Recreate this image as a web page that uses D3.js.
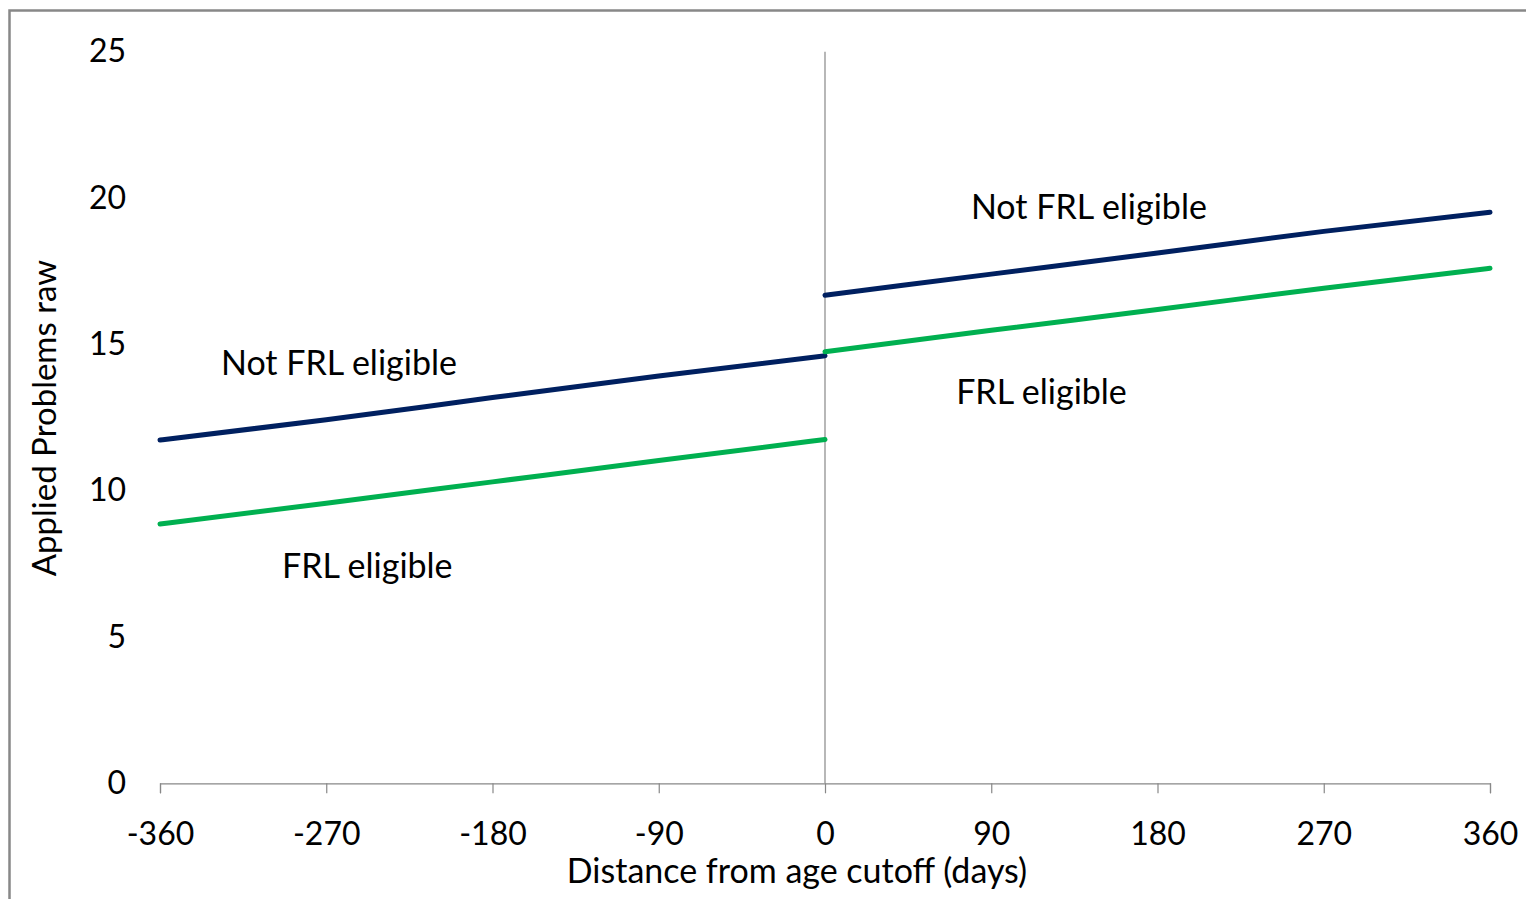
<!DOCTYPE html>
<html>
<head>
<meta charset="utf-8">
<script src="https://cdn.jsdelivr.net/npm/d3@7"></script>
<style>
  html, body { margin: 0; padding: 0; background: #fff; }
  svg { display: block; font-family: Lato, "Open Sans", sans-serif; }
</style>
</head>
<body>
<svg id="chart" width="1526" height="899"></svg>
<script>
// Regression fits of Applied Problems raw score on distance from the age cutoff
const xTicks = [-360, -270, -180, -90, 0, 90, 180, 270, 360];
const yTicks = [0, 5, 10, 15, 20, 25];

const notFrlBefore = [
  { day: -360, v: 11.73 }, { day: -270, v: 12.42 }, { day: -180, v: 13.18 },
  { day: -90, v: 13.92 }, { day: 0, v: 14.61 }
];
const notFrlAfter = [
  { day: 0, v: 16.68 }, { day: 90, v: 17.40 }, { day: 180, v: 18.12 },
  { day: 270, v: 18.86 }, { day: 360, v: 19.51 }
];
const frlBefore = [
  { day: -360, v: 8.86 }, { day: -270, v: 9.57 }, { day: -180, v: 10.30 },
  { day: -90, v: 11.03 }, { day: 0, v: 11.75 }
];
const frlAfter = [
  { day: 0, v: 14.75 }, { day: 90, v: 15.48 }, { day: 180, v: 16.19 },
  { day: 270, v: 16.92 }, { day: 360, v: 17.60 }
];

const labels = [
  { text: "Not FRL eligible", day: -327, v: 13.95 },
  { text: "FRL eligible", day: -294, v: 7.0 },
  { text: "Not FRL eligible", day: 79, v: 19.3 },
  { text: "FRL eligible", day: 71, v: 12.95 }
];

const NAVY = "#002060", GREEN = "#00B050", GREY = "#888888";

const svg = d3.select("#chart");

// outer chart frame
svg.append("rect")
  .attr("x", 9.5).attr("y", 10.5)
  .attr("width", 1530).attr("height", 900)
  .attr("fill", "none").attr("stroke", GREY).attr("stroke-width", 2.5);

const x = d3.scaleLinear().domain([-360, 360]).range([160, 1490]);
const y = d3.scaleLinear().domain([0, 25]).range([783.3, 51.7]);

// x axis
const xAxis = svg.append("g")
  .attr("transform", `translate(0,${y(0)})`)
  .call(d3.axisBottom(x).tickValues(xTicks).tickSize(10).tickPadding(29)
    .tickFormat(d => String(d)));
xAxis.select(".domain").attr("stroke", GREY).attr("stroke-width", 1.2);
xAxis.selectAll(".tick line").attr("stroke", GREY).attr("stroke-width", 1.2);
xAxis.selectAll(".tick text")
  .attr("fill", "#000").attr("font-size", 32).attr("font-family", "Lato");

// y axis labels only
const yAxis = svg.append("g")
  .attr("transform", `translate(126,0)`)
  .call(d3.axisLeft(y).tickValues(yTicks).tickSize(0).tickPadding(0));
yAxis.select(".domain").remove();
yAxis.selectAll(".tick text")
  .attr("fill", "#000").attr("font-size", 32).attr("font-family", "Lato");

// cutoff reference line
svg.append("line")
  .attr("x1", x(0)).attr("x2", x(0))
  .attr("y1", y(25)).attr("y2", y(0))
  .attr("stroke", GREY).attr("stroke-width", 1.2);

// fitted lines
const line = d3.line().x(d => x(d.day)).y(d => y(d.v)).curve(d3.curveMonotoneX);
const series = [
  { data: notFrlBefore, color: NAVY },
  { data: notFrlAfter, color: NAVY },
  { data: frlBefore, color: GREEN },
  { data: frlAfter, color: GREEN }
];
svg.append("g").selectAll("path").data(series).join("path")
  .attr("d", d => line(d.data))
  .attr("fill", "none")
  .attr("stroke", d => d.color)
  .attr("stroke-width", 5)
  .attr("stroke-linecap", "round");

// group labels
svg.append("g").selectAll("text").data(labels).join("text")
  .attr("x", d => x(d.day)).attr("y", d => y(d.v))
  .attr("font-size", 34)
  .attr("fill", "#000")
  .text(d => d.text);

// axis titles
svg.append("text")
  .attr("x", 797).attr("y", 883)
  .attr("text-anchor", "middle")
  .attr("font-size", 34)
  .text("Distance from age cutoff (days)");

svg.append("text")
  .attr("transform", "translate(56,418) rotate(-90)")
  .attr("text-anchor", "middle")
  .attr("font-size", 33)
  .text("Applied Problems raw");
</script>
</body>
</html>
